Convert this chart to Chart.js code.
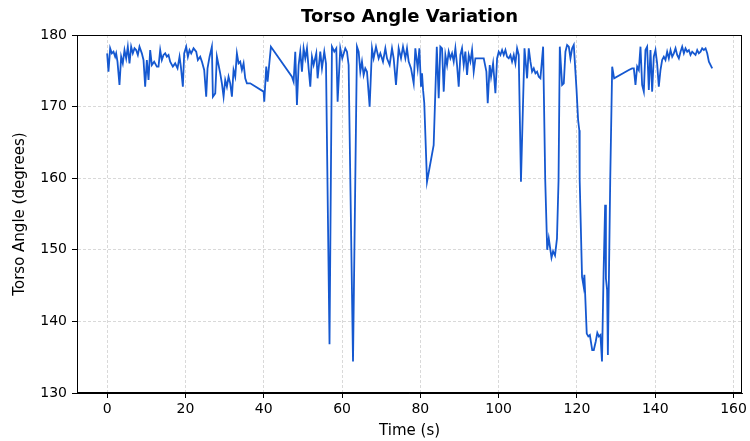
<!DOCTYPE html>
<html>
<head>
<meta charset="utf-8">
<script src="https://cdn.jsdelivr.net/npm/chart.js@4.4.1/dist/chart.umd.min.js"></script>
<style>
html,body{margin:0;padding:0;background:#fff;}
#wrap{width:750px;height:441px;}
</style>
</head>
<body>
<div id="wrap"><canvas id="c" width="750" height="441"></canvas></div>
<script>
const chartTitle = "Torso Angle Variation";
const xAxisTitle = "Time (s)";
const yAxisTitle = "Torso Angle (degrees)";
const xTicks = [0, 20, 40, 60, 80, 100, 120, 140, 160];
const yTicks = [130, 140, 150, 160, 170, 180];

const times = [
0,0.34,0.77,1.19,1.62,2.05,2.30,2.64,3.15,3.58,4.00,4.43,4.86,5.28,5.71,6.13,6.56,6.99,7.41,7.84,8.26,8.86,9.29,9.71,10.14,10.57,10.99,11.42,12.01,12.70,13.12,13.55,13.97,14.40,14.83,15.25,15.68,16.10,16.78,17.38,17.98,18.49,18.83,19.34,19.68,20.19,20.62,21.04,21.47,22.07,22.75,23.17,23.77,24.20,24.79,25.30,25.64,26.16,26.75,27.01,27.61,28.03,28.46,28.88,29.31,29.74,30.16,30.59,31.01,31.44,31.87,32.29,32.72,33.14,33.57,33.99,34.42,34.85,35.27,35.70,36.55,39.96,40.13,
40.64,40.98,41.83,47.20,47.63,48.05,48.48,48.91,49.33,49.76,50.18,50.61,51.04,51.46,51.89,52.31,52.74,53.42,53.76,54.44,54.87,55.46,55.9,56.8,57.42,58.02,58.53,58.87,59.55,60.06,60.83,61.26,61.68,62.8,63.81,64.24,64.67,65.09,65.52,65.94,66.37,67.05,67.65,68.07,68.67,69.35,69.78,70.46,71.06,71.48,72.16,72.76,73.19,73.78,74.46,
75.06,75.57,76.17,76.59,77.02,77.62,78.30,78.72,79.32,79.75,80.17,80.43,80.7,81.0,81.7,83.4,84.2,84.69,85.11,85.54,85.97,86.39,86.82,87.24,87.67,88.10,88.52,88.95,89.37,89.80,90.23,90.65,91.08,91.50,91.93,92.36,92.78,93.21,93.63,94.06,95.76,96.19,96.87,97.21,97.72,98.06,98.58,99.17,99.60,100.02,100.45,100.88,101.30,101.73,102.15,102.58,103.01,103.43,103.86,104.28,104.71,105.13,105.7,106.6,107.27,107.69,108.12,108.54,108.97,109.40,109.82,110.25,110.67,111.36,
111.9,112.4,112.8,113.5,113.9,114.4,114.9,115.3,115.62,116.21,116.64,117.06,117.49,117.92,118.34,118.77,119.19,119.9,120.3,120.6,120.7,121.3,121.7,121.9,122.5,122.9,123.3,123.9,124.3,124.8,125.2,125.6,126.0,126.4,126.8,127.2,127.4,127.7,127.9,128.5,129.0,129.5,133.25,134.10,134.53,134.95,135.38,135.80,136.23,136.65,137.08,137.50,137.93,138.36,138.78,139.21,139.63,140.06,140.48,140.91,141.34,141.76,142.19,142.61,143.04,
143.47,143.90,144.33,144.75,145.18,145.60,146.03,146.46,146.88,147.31,147.73,148.16,148.59,149.01,149.44,149.86,150.29,150.72,151.14,151.57,151.99,152.42,152.85,153.27,153.70,154.55
];
const angles = [
177.44,174.88,178.14,177.44,177.67,176.97,177.44,176.28,173.02,176.97,176.04,177.90,176.74,178.37,176.04,178.37,177.44,178.14,177.90,177.21,178.37,177.44,176.51,172.78,176.51,173.72,177.90,175.81,176.28,175.58,175.58,177.90,176.51,177.21,177.44,176.97,177.21,176.28,175.58,176.04,175.34,176.97,175.58,172.78,177.44,178.37,176.97,177.90,177.44,178.14,177.67,176.51,176.97,176.28,175.11,171.39,175.34,176.97,178.37,171.39,171.85,176.97,175.81,174.65,173.25,171.39,173.72,172.78,174.18,173.25,171.39,175.11,174.18,177.44,176.04,176.28,175.11,176.04,173.95,173.25,173.25,172.09,170.69,
175.58,173.48,178.37,174.18,173.48,177.67,170.23,175.81,177.67,174.88,178.14,176.74,178.14,175.34,172.79,176.97,175.81,177.44,173.95,177.67,175.34,177.67,176.0,136.8,178.37,177.67,178.14,170.69,178.14,176.74,178.14,177.67,175.81,134.4,178.37,177.67,174.88,176.28,174.41,175.34,174.88,170.00,178.14,176.74,178.37,176.74,177.44,176.28,178.14,176.74,175.81,178.14,176.74,173.02,178.14,
176.74,178.37,176.74,178.14,176.28,175.34,173.25,178.14,175.34,178.14,172.79,174.65,172.3,170.5,159.5,164.6,178.37,171.16,178.37,178.14,172.09,177.21,175.81,177.67,176.74,177.44,176.28,178.14,175.81,172.79,177.21,178.14,175.81,177.67,174.41,177.21,176.28,177.90,174.88,176.74,176.74,176.74,174.88,170.46,175.81,174.18,176.04,171.86,176.74,177.67,177.21,177.90,177.21,177.90,176.97,176.74,177.21,176.28,177.21,176.04,178.14,177.21,159.5,178.14,173.95,178.14,176.28,174.88,175.34,174.65,174.88,174.18,173.95,178.37,
159.7,150.0,151.6,148.9,149.8,149.2,151.6,159.7,178.37,173.02,173.25,177.67,178.60,178.37,176.74,178.14,178.60,172.3,168.1,166.7,159.7,146.2,144.9,146.5,138.3,137.9,138.1,136.0,136.0,137.2,138.4,137.9,138.1,134.4,146.7,156.3,146.0,144.4,135.3,159.7,175.58,173.95,175.11,175.34,175.34,173.02,175.58,175.11,178.37,173.02,172.09,177.90,178.37,172.32,177.90,172.09,176.97,177.90,176.04,172.78,175.11,176.51,176.97,176.51,177.67,
176.74,177.90,176.97,177.44,178.14,177.21,176.74,177.67,178.37,177.44,178.14,177.67,177.90,177.21,177.67,177.44,177.21,177.90,177.44,177.67,178.14,177.90,178.14,177.44,176.28,175.34
];

const points = times.map((t, i) => ({x: t, y: angles[i]}));

const FONT = "'DejaVu Sans', sans-serif";

const framePlugin = {
  id: 'frame',
  afterLayout(chart) {
    const tb = chart.titleBlock;
    const a = chart.chartArea;
    if (tb && a) {
      tb.left = a.left;
      tb.right = a.right;
      tb.width = a.right - a.left;
    }
  },
  afterDatasetsDraw(chart) {
    const {ctx, chartArea: a} = chart;
    ctx.save();
    ctx.strokeStyle = '#000';
    ctx.lineWidth = 1;
    ctx.strokeRect(Math.round(a.left) + 0.5, Math.round(a.top) + 0.5, Math.round(a.right - a.left) - 1, Math.round(a.bottom - a.top) - 1);
    ctx.restore();
  }
};

new Chart(document.getElementById('c'), {
  type: 'line',
  data: {
    datasets: [{
      data: points,
      borderColor: '#1558d0',
      borderWidth: 1.8,
      pointRadius: 0,
      tension: 0,
      fill: false
    }]
  },
  options: {
    responsive: false,
    animation: false,
    devicePixelRatio: 1,
    layout: {padding: {left: 0, right: 7, top: 0, bottom: 0}},
    plugins: {
      legend: {display: false},
      tooltip: {enabled: false},
      title: {
        display: true,
        text: chartTitle,
        color: '#000',
        font: {family: FONT, size: 18, weight: 'bold', lineHeight: 1.2},
        padding: {top: 6.7, bottom: 6.7}
      }
    },
    scales: {
      x: {
        type: 'linear',
        min: -7.7,
        max: 162.2,
        afterBuildTicks: (s) => { s.ticks = xTicks.map(v => ({value: v})); },
        afterFit: (s) => { s.height = 48; },
        ticks: {color: '#000', font: {family: FONT, size: 14}, padding: 3, maxRotation: 0},
        grid: {color: '#cfcfcf', lineWidth: 0.8, drawTicks: true, tickLength: 5, tickColor: '#000', tickWidth: 1},
        border: {display: true, color: '#000', width: 1, dash: [3, 2]},
        title: {display: true, text: xAxisTitle, color: '#000', font: {family: FONT, size: 15, lineHeight: 1.2}, padding: {top: 0, bottom: 1}}
      },
      y: {
        type: 'linear',
        min: 130,
        max: 180,
        afterBuildTicks: (s) => { s.ticks = yTicks.map(v => ({value: v})); },
        afterFit: (s) => { s.width = 77; },
        ticks: {color: '#000', font: {family: FONT, size: 14}, padding: 5},
        grid: {color: '#cfcfcf', lineWidth: 0.8, drawTicks: true, tickLength: 5, tickColor: '#000', tickWidth: 1},
        border: {display: true, color: '#000', width: 1, dash: [3, 2]},
        title: {display: true, text: yAxisTitle, color: '#000', font: {family: FONT, size: 15, lineHeight: 1.2}, padding: {top: 11, bottom: 0}}
      }
    }
  },
  plugins: [framePlugin]
});
</script>
</body>
</html>
